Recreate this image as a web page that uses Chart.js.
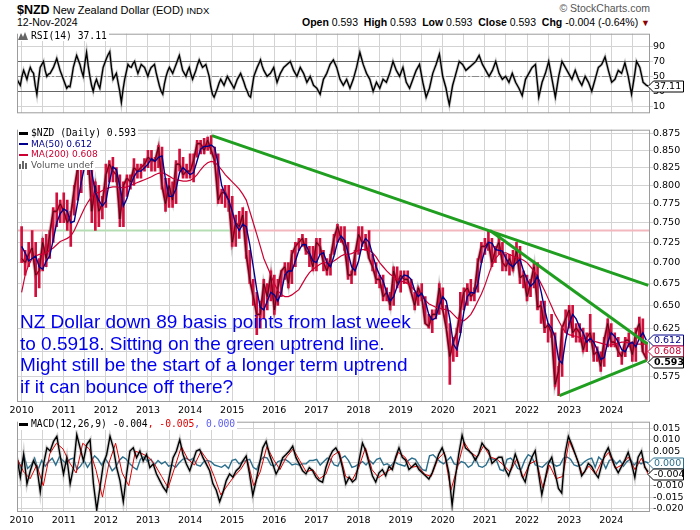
<!DOCTYPE html>
<html>
<head>
<meta charset="utf-8">
<title>$NZD New Zealand Dollar (EOD)</title>
<script src="https://cdn.jsdelivr.net/npm/chart.js@4.4.1/dist/chart.umd.min.js"></script>
<style>
  body { margin: 0; background: #fff; }
  #page { position: relative; width: 700px; height: 530px; overflow: hidden; background: #fff;
          font-family: "Liberation Sans", Arial, sans-serif; color: #000; }
  #page canvas { position: absolute; left: 0; }
  .txt { position: absolute; white-space: nowrap; line-height: 1; }
  .mono { font-family: "DejaVu Sans Mono", monospace; font-size: 9.7px; }
  .sans { font-family: "DejaVu Sans", sans-serif; font-size: 9px; }
  .key { position: absolute; left: 18px; height: 10.5px; line-height: 10.5px; background: #fff; white-space: nowrap; padding-right: 2px; }
  .dash { display: inline-block; width: 9px; height: 3px; vertical-align: middle; margin: 0 3px 0 1px; }
  #note { position: absolute; left: 20px; top: 311px; color: #0000ee; font-size: 19px; line-height: 21.7px; white-space: nowrap; }
</style>
</head>
<body>
<div id="page">
  <canvas id="rsiChart" width="700" height="91" style="top:28px"></canvas>
  <canvas id="priceChart" width="700" height="292" style="top:124px"></canvas>
  <canvas id="macdChart" width="700" height="110" style="top:416px"></canvas>

  <!-- header -->
  <div class="txt" style="left:17px;top:4px;font-size:11px"><b style="font-size:12.5px">$NZD</b> New Zealand Dollar (EOD) <span style="font-size:9.5px">INDX</span></div>
  <div class="txt" style="left:17px;top:17px;font-size:10.5px">12-Nov-2024</div>
  <div class="txt" style="right:50px;top:3px;font-size:10.5px;color:#555">&copy; StockCharts.com</div>
  <div class="txt" style="right:50px;top:17px;font-size:10.5px"><b>Open</b> 0.593&nbsp; <b>High</b> 0.593&nbsp; <b>Low</b> 0.593&nbsp; <b>Close</b> 0.593&nbsp; <b>Chg</b> -0.004 (-0.64%) <span style="color:#8b0000;font-size:9px">&#9660;</span></div>

  <!-- legends -->
  <div class="key mono" style="top:30.5px"><svg width="11" height="9" style="vertical-align:-1px;margin-right:2px"><path d="M0 9 L3 2 L5 6 L7 1 L10 9 Z" fill="#666"/></svg><span id="rsiKey"></span></div>
  <div class="key mono" style="top:128px"><span class="dash" style="background:#000"></span><span id="closeKey"></span></div>
  <div class="key sans" style="top:138.5px;color:#00008b"><span class="dash" style="background:#00008b;height:2px"></span><span id="ma50Key"></span></div>
  <div class="key sans" style="top:149px;color:#cc0033"><span class="dash" style="background:#cc0033;height:2px"></span><span id="ma200Key"></span></div>
  <div class="key sans" style="top:159.5px;color:#555"><svg width="10" height="8" style="vertical-align:-1px;margin:0 2px 0 1px"><rect x="0" y="3" width="2" height="5" fill="#666"/><rect x="3" y="0" width="2" height="8" fill="#666"/><rect x="6" y="2" width="2" height="6" fill="#666"/></svg>Volume undef</div>
  <div class="key mono" style="top:419px"><span class="dash" style="background:#000"></span><span id="macdKey"></span></div>

  <div id="note">NZ Dollar down 89 basis points from last week<br>to 0.5918. Sitting on the green uptrend line.<br>Might still be the start of a longer term uptrend<br>if it can bounce off there?</div>
</div>

<script>
/* ================= DATA ================= */

const years = [2010, 2011, 2012, 2013, 2014, 2015, 2016, 2017, 2018, 2019, 2020, 2021, 2022, 2023, 2024];
const priceTicks = [0.575, 0.600, 0.625, 0.650, 0.675, 0.700, 0.725, 0.750, 0.775, 0.800, 0.825, 0.850, 0.875];
const rsiTicks = [10, 30, 50, 70, 90];
const rsiLevels = [30, 50, 70];
const macdTicks = [-0.020, -0.015, -0.010, -0.005, 0.000, 0.005, 0.010, 0.015];

// monthly, Jan 2010 .. Nov 2024
const priceHigh = [
  0.745, 0.715, 0.725, 0.740, 0.725, 0.705, 0.730, 0.735, 0.740, 0.770, 0.790, 0.780,
  0.790, 0.780, 0.765, 0.800, 0.825, 0.830, 0.880, 0.880, 0.840, 0.805, 0.800, 0.785,
  0.830, 0.835, 0.840, 0.825, 0.815, 0.805, 0.815, 0.815, 0.838, 0.830, 0.830, 0.838,
  0.850, 0.850, 0.840, 0.857, 0.855, 0.810, 0.810, 0.805, 0.835, 0.852, 0.840, 0.830,
  0.845, 0.845, 0.865, 0.865, 0.868, 0.870, 0.872, 0.855, 0.845, 0.795, 0.800, 0.800,
  0.785, 0.760, 0.765, 0.770, 0.765, 0.715, 0.680, 0.665, 0.655, 0.680, 0.675, 0.690,
  0.685, 0.680, 0.690, 0.700, 0.700, 0.715, 0.725, 0.730, 0.735, 0.730, 0.720, 0.720,
  0.730, 0.730, 0.715, 0.705, 0.710, 0.735, 0.748, 0.745, 0.745, 0.725, 0.690, 0.715,
  0.745, 0.745, 0.735, 0.740, 0.710, 0.700, 0.685, 0.685, 0.670, 0.665, 0.695, 0.695,
  0.690, 0.690, 0.690, 0.680, 0.665, 0.670, 0.675, 0.660, 0.640, 0.645, 0.645, 0.675,
  0.670, 0.650, 0.630, 0.615, 0.625, 0.665, 0.670, 0.675, 0.680, 0.670, 0.705, 0.725,
  0.730, 0.740, 0.730, 0.720, 0.735, 0.725, 0.710, 0.710, 0.715, 0.725, 0.720, 0.690,
  0.685, 0.680, 0.700, 0.700, 0.655, 0.655, 0.630, 0.640, 0.620, 0.585, 0.625, 0.645,
  0.650, 0.650, 0.630, 0.630, 0.625, 0.620, 0.640, 0.620, 0.605, 0.600, 0.615, 0.635,
  0.630, 0.620, 0.615, 0.600, 0.615, 0.620, 0.610, 0.625, 0.637, 0.635, 0.610
];
const priceLow = [
  0.700, 0.685, 0.695, 0.705, 0.660, 0.670, 0.690, 0.695, 0.705, 0.725, 0.745, 0.750,
  0.750, 0.740, 0.720, 0.760, 0.780, 0.790, 0.830, 0.815, 0.750, 0.740, 0.745, 0.755,
  0.770, 0.805, 0.805, 0.805, 0.745, 0.745, 0.785, 0.795, 0.800, 0.810, 0.810, 0.820,
  0.825, 0.820, 0.820, 0.825, 0.795, 0.765, 0.770, 0.770, 0.775, 0.820, 0.810, 0.810,
  0.810, 0.805, 0.840, 0.845, 0.845, 0.850, 0.845, 0.830, 0.775, 0.775, 0.770, 0.765,
  0.720, 0.720, 0.730, 0.745, 0.705, 0.675, 0.650, 0.618, 0.625, 0.635, 0.645, 0.655,
  0.640, 0.650, 0.660, 0.680, 0.670, 0.675, 0.695, 0.715, 0.720, 0.710, 0.695, 0.690,
  0.690, 0.710, 0.690, 0.685, 0.685, 0.710, 0.725, 0.725, 0.715, 0.680, 0.675, 0.685,
  0.710, 0.720, 0.715, 0.705, 0.690, 0.675, 0.670, 0.655, 0.655, 0.645, 0.650, 0.670,
  0.665, 0.675, 0.675, 0.665, 0.645, 0.650, 0.655, 0.630, 0.625, 0.620, 0.635, 0.640,
  0.645, 0.625, 0.567, 0.590, 0.595, 0.620, 0.645, 0.650, 0.655, 0.655, 0.665, 0.700,
  0.710, 0.715, 0.695, 0.700, 0.710, 0.690, 0.690, 0.685, 0.690, 0.700, 0.675, 0.670,
  0.655, 0.660, 0.670, 0.645, 0.630, 0.620, 0.610, 0.615, 0.565, 0.556, 0.575, 0.620,
  0.625, 0.615, 0.610, 0.610, 0.600, 0.600, 0.610, 0.590, 0.590, 0.580, 0.585, 0.605,
  0.605, 0.605, 0.595, 0.587, 0.595, 0.605, 0.590, 0.590, 0.615, 0.600, 0.591
];
const priceClose = [
  0.705, 0.700, 0.710, 0.718, 0.685, 0.690, 0.725, 0.705, 0.735, 0.765, 0.765, 0.775,
  0.765, 0.750, 0.760, 0.795, 0.825, 0.830, 0.870, 0.840, 0.765, 0.800, 0.765, 0.775,
  0.815, 0.830, 0.820, 0.815, 0.755, 0.800, 0.810, 0.805, 0.825, 0.820, 0.825, 0.830,
  0.840, 0.835, 0.835, 0.855, 0.800, 0.775, 0.800, 0.780, 0.830, 0.830, 0.815, 0.820,
  0.820, 0.835, 0.860, 0.860, 0.850, 0.865, 0.850, 0.835, 0.780, 0.790, 0.790, 0.780,
  0.725, 0.750, 0.745, 0.760, 0.710, 0.680, 0.660, 0.640, 0.640, 0.675, 0.660, 0.685,
  0.645, 0.670, 0.690, 0.695, 0.675, 0.710, 0.720, 0.725, 0.730, 0.715, 0.710, 0.695,
  0.725, 0.720, 0.700, 0.690, 0.705, 0.730, 0.745, 0.730, 0.720, 0.685, 0.685, 0.710,
  0.735, 0.725, 0.725, 0.705, 0.695, 0.680, 0.680, 0.660, 0.665, 0.650, 0.690, 0.675,
  0.685, 0.680, 0.680, 0.665, 0.650, 0.670, 0.660, 0.630, 0.627, 0.640, 0.640, 0.670,
  0.645, 0.625, 0.595, 0.610, 0.620, 0.645, 0.665, 0.670, 0.660, 0.665, 0.700, 0.720,
  0.720, 0.725, 0.700, 0.715, 0.725, 0.700, 0.695, 0.705, 0.692, 0.715, 0.682, 0.685,
  0.660, 0.675, 0.695, 0.648, 0.650, 0.625, 0.628, 0.620, 0.567, 0.580, 0.625, 0.635,
  0.645, 0.620, 0.625, 0.620, 0.602, 0.615, 0.620, 0.597, 0.600, 0.585, 0.612, 0.630,
  0.610, 0.610, 0.600, 0.595, 0.612, 0.612, 0.597, 0.620, 0.630, 0.600, 0.593
];
const ma50 = [
  0.720, 0.712, 0.702, 0.705, 0.708, 0.695, 0.692, 0.702, 0.708, 0.728, 0.750, 0.762,
  0.768, 0.765, 0.750, 0.752, 0.778, 0.805, 0.828, 0.845, 0.818, 0.790, 0.780, 0.772,
  0.778, 0.805, 0.826, 0.822, 0.798, 0.772, 0.782, 0.800, 0.812, 0.820, 0.820, 0.825,
  0.830, 0.838, 0.834, 0.840, 0.842, 0.808, 0.785, 0.785, 0.795, 0.818, 0.825, 0.820,
  0.815, 0.818, 0.835, 0.852, 0.856, 0.856, 0.858, 0.854, 0.830, 0.800, 0.788, 0.780,
  0.765, 0.748, 0.740, 0.748, 0.745, 0.722, 0.695, 0.668, 0.648, 0.645, 0.655, 0.665,
  0.662, 0.655, 0.665, 0.685, 0.690, 0.690, 0.702, 0.715, 0.722, 0.722, 0.712, 0.702,
  0.700, 0.710, 0.712, 0.700, 0.695, 0.708, 0.725, 0.733, 0.728, 0.712, 0.695, 0.690,
  0.702, 0.722, 0.730, 0.725, 0.710, 0.695, 0.685, 0.678, 0.665, 0.655, 0.660, 0.672,
  0.680, 0.685, 0.684, 0.680, 0.667, 0.660, 0.664, 0.655, 0.640, 0.634, 0.636, 0.650,
  0.660, 0.655, 0.635, 0.608, 0.602, 0.618, 0.643, 0.660, 0.665, 0.664, 0.675, 0.700,
  0.715, 0.725, 0.724, 0.716, 0.715, 0.714, 0.705, 0.698, 0.695, 0.700, 0.704, 0.690,
  0.680, 0.672, 0.676, 0.684, 0.666, 0.646, 0.630, 0.625, 0.615, 0.592, 0.588, 0.612,
  0.630, 0.640, 0.635, 0.626, 0.620, 0.610, 0.614, 0.610, 0.602, 0.592, 0.594, 0.610,
  0.620, 0.616, 0.610, 0.602, 0.600, 0.608, 0.610, 0.605, 0.614, 0.620, 0.612
];
const ma200 = [
  0.665, 0.685, 0.697, 0.705, 0.708, 0.710, 0.710, 0.712, 0.715, 0.718, 0.722, 0.726,
  0.728, 0.730, 0.733, 0.740, 0.750, 0.760, 0.770, 0.778, 0.785, 0.790, 0.790, 0.793,
  0.795, 0.797, 0.798, 0.798, 0.797, 0.797, 0.798, 0.800, 0.802, 0.804, 0.806, 0.808,
  0.810, 0.812, 0.815, 0.817, 0.818, 0.816, 0.813, 0.810, 0.808, 0.807, 0.806, 0.806,
  0.807, 0.810, 0.815, 0.822, 0.828, 0.832, 0.834, 0.833, 0.828, 0.822, 0.815, 0.810,
  0.805, 0.800, 0.795, 0.788, 0.780, 0.765, 0.750, 0.735, 0.720, 0.705, 0.695, 0.685,
  0.675, 0.667, 0.662, 0.660, 0.660, 0.662, 0.665, 0.668, 0.675, 0.682, 0.688, 0.692,
  0.695, 0.698, 0.700, 0.700, 0.700, 0.702, 0.705, 0.708, 0.710, 0.710, 0.711, 0.713,
  0.715, 0.716, 0.716, 0.715, 0.712, 0.707, 0.700, 0.695, 0.690, 0.686, 0.683, 0.680,
  0.678, 0.677, 0.675, 0.672, 0.667, 0.663, 0.660, 0.656, 0.652, 0.650, 0.648, 0.647,
  0.646, 0.645, 0.644, 0.640, 0.636, 0.634, 0.633, 0.636, 0.640, 0.647, 0.655, 0.663,
  0.673, 0.685, 0.697, 0.705, 0.710, 0.712, 0.712, 0.710, 0.708, 0.706, 0.705, 0.703,
  0.700, 0.695, 0.690, 0.683, 0.675, 0.667, 0.658, 0.649, 0.640, 0.633, 0.626, 0.620,
  0.618, 0.617, 0.616, 0.615, 0.614, 0.613, 0.612, 0.611, 0.610, 0.609, 0.608, 0.607,
  0.607, 0.608, 0.609, 0.610, 0.610, 0.609, 0.609, 0.608, 0.608, 0.608, 0.608
];

// trend lines: [date, price] end points
const trendLong = [[2014.52, 0.872], [2024.88, 0.673]];
const trendShort = [[2021.12, 0.740], [2024.86, 0.608]];
const trendUp = [[2022.77, 0.556], [2024.84, 0.591]];
const levelPrice = 0.740;
const levelBreaks = [2009.89, 2010.6, 2015.02, 2024.92];

// RSI(14), roughly every half month
const rsiValues = [
  46, 42, 38, 50, 58, 52, 46, 55, 62, 57, 54, 38, 26, 45, 62, 66, 70, 58, 50, 53,
  54, 58, 62, 68, 74, 66, 58, 52, 46, 40, 34, 37, 36, 48, 62, 70, 78, 72, 66, 57,
  50, 68, 82, 64, 50, 38, 30, 40, 46, 39, 34, 48, 62, 68, 74, 79, 83, 62, 46, 50,
  54, 42, 30, 15, 32, 46, 56, 66, 63, 62, 67, 70, 61, 54, 60, 66, 64, 62, 56, 50,
  57, 62, 64, 66, 55, 46, 37, 30, 26, 40, 50, 57, 62, 58, 54, 60, 66, 72, 78, 68,
  58, 54, 50, 57, 62, 53, 46, 52, 58, 66, 72, 67, 62, 64, 66, 58, 50, 36, 26, 22,
  28, 34, 41, 46, 42, 38, 44, 50, 46, 42, 38, 34, 40, 46, 50, 54, 48, 42, 35, 30,
  24, 22, 36, 50, 56, 62, 67, 72, 64, 58, 54, 50, 52, 54, 58, 62, 51, 42, 48, 54,
  58, 62, 64, 66, 68, 70, 64, 58, 54, 50, 56, 62, 58, 54, 48, 42, 46, 50, 44, 38,
  36, 34, 30, 26, 36, 46, 50, 54, 60, 66, 69, 72, 67, 62, 54, 46, 42, 38, 42, 46,
  40, 34, 40, 46, 54, 62, 72, 82, 74, 66, 60, 54, 50, 46, 38, 30, 36, 42, 38, 34,
  40, 46, 44, 42, 48, 54, 62, 70, 64, 58, 54, 50, 56, 62, 52, 42, 38, 34, 40, 46,
  52, 58, 62, 66, 54, 42, 32, 22, 28, 34, 44, 54, 60, 66, 73, 80, 65, 50, 42, 34,
  22, 12, 25, 38, 46, 54, 62, 70, 68, 66, 62, 58, 60, 62, 64, 66, 68, 70, 74, 78,
  72, 66, 62, 58, 54, 50, 54, 58, 64, 70, 62, 54, 50, 46, 48, 50, 46, 42, 48, 54,
  48, 42, 38, 34, 29, 24, 35, 46, 50, 54, 58, 62, 64, 66, 44, 22, 32, 42, 48, 54,
  62, 70, 58, 46, 34, 22, 36, 50, 60, 70, 66, 62, 58, 54, 50, 46, 52, 58, 52, 46,
  42, 38, 44, 50, 46, 42, 36, 30, 38, 46, 54, 62, 64, 66, 71, 76, 67, 58, 50, 42,
  44, 46, 52, 58, 56, 54, 61, 68, 59, 50, 38, 26, 40, 54, 70, 66, 62, 52, 42, 40,
  38, 37.11
];

// MACD(12,26,9)
const macdValues = [
  0.0022, -0.0063, 0.0036, -0.0092, -0.0035, 0.0008, -0.0021, -0.0127, -0.0006, 0.0065,
  0.0051, 0.0093, 0.0115, 0.0030, -0.0049, 0.0022, -0.0092, -0.0020, 0.0122, 0.0065,
  0.0008, 0.0079, 0.0100, -0.0090, -0.0206, -0.0106, -0.0006, 0.0036, 0.0115, 0.0065,
  -0.0021, -0.0078, -0.0170, -0.0049, 0.0051, 0.0065, 0.0022, 0.0051, 0.0008, 0.0036,
  -0.0021, -0.0006, -0.0049, -0.0078, -0.0106, -0.0127, -0.0049, 0.0022, 0.0051, 0.0100,
  0.0036, -0.0006, -0.0035, 0.0008, 0.0051, 0.0058, 0.0022, -0.0006, -0.0035, -0.0092,
  -0.0120, -0.0170, -0.0130, -0.0078, -0.0049, -0.0063, -0.0035, -0.0021, 0.0008, 0.0029,
  -0.0049, -0.0142, -0.0078, -0.0006, 0.0065, 0.0093, 0.0036, -0.0006, -0.0049, -0.0021,
  0.0022, 0.0036, 0.0051, 0.0072, 0.0022, -0.0006, -0.0035, -0.0049, -0.0021, -0.0035,
  -0.0063, -0.0078, -0.0085, -0.0021, 0.0022, 0.0051, 0.0065, 0.0036, -0.0021, -0.0092,
  -0.0063,
  -0.0084, -0.0071, 0.0011, 0.0086, 0.0052, -0.0003, -0.0057, -0.0084, -0.0044, -0.0030,
  -0.0057, -0.0016, -0.0030, 0.0024, 0.0065, 0.0024, 0.0011, -0.0030, -0.0016, -0.0003,
  -0.0030, -0.0044, -0.0057, -0.0071, -0.0044, -0.0003, 0.0038, 0.0065, 0.0024, -0.0044,
  -0.0186, -0.0060, 0.0038, 0.0120, 0.0065, 0.0052, 0.0038, 0.0011, 0.0038, 0.0086,
  0.0065, 0.0052, -0.0003, 0.0011, 0.0024, 0.0024, -0.0030, -0.0057, -0.0016, 0.0038,
  -0.0003, -0.0057, -0.0084, -0.0016, 0.0024, 0.0052, -0.0044, -0.0139, -0.0071, -0.0003,
  0.0024, -0.0044, -0.0112, -0.0132, 0.0040, 0.0115, 0.0080, 0.0040, 0.0000, -0.0057,
  -0.0037, -0.0003, -0.0016, -0.0044, -0.0065, -0.0010, 0.0038, 0.0065, 0.0024, -0.0016,
  -0.0044, -0.0016, 0.0011, 0.0045, -0.0003, -0.0064, 0.0024, 0.0050, -0.0020, -0.0040
];
const signalValues = [
  0.0020, -0.0040, -0.0070, -0.0010, -0.0100, 0.0040, 0.0085, 0.0060, 0.0000, -0.0045,
  0.0085, 0.0060, -0.0030, -0.0150, 0.0000, 0.0085, -0.0045, -0.0100, 0.0050, 0.0040,
  0.0025, -0.0010, -0.0060, -0.0110, -0.0020, 0.0070, 0.0015, -0.0010, 0.0050, 0.0010,
  -0.0060, -0.0140, -0.0100, -0.0060, -0.0030, 0.0015, -0.0100, -0.0040, 0.0070, 0.0015,
  -0.0030, 0.0025, 0.0060, 0.0010, -0.0040, -0.0030, -0.0070, -0.0050, 0.0030, 0.0050,
  -0.0060, -0.0075, -0.0020, 0.0065, -0.0030, -0.0065, -0.0045, -0.0025, 0.0045, 0.0025,
  -0.0020, -0.0015, -0.0050, -0.0060, 0.0015, 0.0045, -0.0120, -0.0020, 0.0090, 0.0045,
  0.0025, 0.0075, 0.0025, 0.0015, -0.0010, -0.0040, 0.0015, -0.0065, -0.0005, 0.0010,
  -0.0110, -0.0010, -0.0070, -0.0060, 0.0095, 0.0030, -0.0050, -0.0015, -0.0050, 0.0010,
  0.0045, -0.0025, -0.0010, 0.0025, -0.0030, 0.0020, -0.0050
];
const histValues = [
  0.0015, -0.0020, 0.0030, -0.0025, -0.0010, 0.0020, -0.0030, 0.0010, -0.0015, 0.0005,
  0.0020, -0.0010, 0.0025, 0.0010, -0.0005, 0.0015, 0.0020, -0.0030, -0.0015, 0.0010,
  -0.0020, 0.0005, 0.0030, 0.0015, -0.0010, 0.0020, -0.0005, -0.0035, -0.0020, 0.0010,
  0.0025, 0.0015, -0.0005, -0.0020, -0.0030, 0.0015, 0.0025, 0.0005, 0.0015, -0.0010,
  0.0010, -0.0005, 0.0005, -0.0015, -0.0010, -0.0020, 0.0000, 0.0015, 0.0020, 0.0010,
  0.0020, -0.0010, -0.0015, 0.0005, 0.0010, 0.0005, -0.0010, -0.0015, -0.0020, -0.0010,
  -0.0025, 0.0010, 0.0015, -0.0005, 0.0005, 0.0010, 0.0015, -0.0020, -0.0030, 0.0010,
  0.0025, 0.0020, -0.0010, -0.0015, 0.0005, 0.0010, 0.0015, 0.0005, -0.0010, -0.0005,
  -0.0010, -0.0005, -0.0005, 0.0010, 0.0010, 0.0015, -0.0010, 0.0005, 0.0020, 0.0015,
  -0.0010, -0.0015, 0.0020, 0.0030, 0.0010, -0.0020, -0.0015, -0.0005, 0.0005, -0.0010,
  0.0010, -0.0005, 0.0015, 0.0020, -0.0010, -0.0005, -0.0015, 0.0005, -0.0005, -0.0010,
  -0.0015, 0.0010, 0.0020, 0.0015, -0.0010, -0.0030, -0.0035, 0.0030, 0.0035, 0.0020,
  0.0005, -0.0005, 0.0010, 0.0025, -0.0005, -0.0010, 0.0005, 0.0000, -0.0020, -0.0010,
  0.0020, -0.0015, -0.0020, -0.0010, 0.0020, 0.0015, 0.0010, -0.0030, -0.0035, 0.0015,
  0.0020, 0.0005, -0.0025, -0.0030, 0.0010, 0.0035, 0.0025, -0.0010, -0.0015, -0.0020,
  -0.0005, 0.0010, -0.0005, -0.0015, -0.0010, 0.0020, 0.0025, 0.0015, -0.0010, -0.0015,
  -0.0010, 0.0005, 0.0015, 0.0020, -0.0020, 0.0025, 0.0010, -0.0025, 0.0010, 0.0015,
  -0.0005, 0.0010, -0.0015, 0.0005, 0.0015, -0.0010, 0.0005, -0.0005, 0.0005, 0.0000
];

/* ================= STYLE ================= */

const T_MIN = 2009.89, T_MAX = 2024.92;      // x axis range (years)
const OSC_START = 2009.89, OSC_END = 2024.875; // oscillator samples span
const RED = '#cc0033', NAVY = '#00008b', GREEN = '#1f9e1f', TEAL = '#2b6e8c';
const GRID = '#d3d3d3', FRAME = '#9c9c9c';

Chart.defaults.font.family = '"DejaVu Sans", sans-serif';
Chart.defaults.font.size = 9.5;
Chart.defaults.color = '#000';
Chart.defaults.animation = false;
Chart.defaults.plugins.legend.display = false;
Chart.defaults.plugins.tooltip.enabled = false;

const monthDates = priceClose.map((v, i) => 2010 + i / 12);
const xTickValues = [];
years.forEach(y => { xTickValues.push(y, y + 0.5); });

function pts(dates, vals) {
    return vals.map((v, i) => ({ x: dates[i], y: v }));
}
function spread(vals) {
    const step = (OSC_END - OSC_START) / (vals.length - 1);
    return vals.map((v, i) => ({ x: OSC_START + i * step, y: v }));
}
function last(a) { return a[a.length - 1]; }

/* panel frame */
const frame = {
    id: 'frame',
    afterDatasetsDraw(chart) {
        const a = chart.chartArea, ctx = chart.ctx;
        ctx.save();
        ctx.strokeStyle = FRAME;
        ctx.lineWidth = 1;
        ctx.strokeRect(a.left + 0.5, a.top + 0.5, a.right - a.left - 1, a.bottom - a.top - 1);
        ctx.restore();
    }
};

/* RSI 30 / 50 / 70 lines */
const refLines = {
    id: 'refLines',
    beforeDatasetsDraw(chart, args, opts) {
        if (!opts.levels) return;
        const a = chart.chartArea, ctx = chart.ctx, s = chart.scales.y;
        ctx.save();
        opts.levels.forEach(v => {
            const y = Math.round(s.getPixelForValue(v)) + 0.5;
            ctx.beginPath();
            ctx.setLineDash(v === 50 ? [7, 2, 2, 2] : []);
            ctx.strokeStyle = v === 50 ? '#8a8a8a' : '#666';
            ctx.lineWidth = 1;
            ctx.moveTo(a.left, y);
            ctx.lineTo(a.right, y);
            ctx.stroke();
        });
        ctx.restore();
    }
};

/* last-value tags on the right axis */
const valueTags = {
    id: 'valueTags',
    afterDraw(chart, args, opts) {
        if (!opts.items) return;
        const ctx = chart.ctx, s = chart.scales.y, r = chart.chartArea.right;
        const placed = [];
        opts.items.forEach(item => {
            let y = s.getPixelForValue(item.value);
            placed.forEach(p => { if (Math.abs(y - p) < 11) y = p + 11; });
            placed.push(y);
            y = Math.round(y) + 0.5;
            ctx.save();
            ctx.beginPath();
            ctx.moveTo(r - 2, y);
            ctx.lineTo(r + 3.5, y - 5.5);
            ctx.lineTo(r + 33.5, y - 5.5);
            ctx.lineTo(r + 33.5, y + 5.5);
            ctx.lineTo(r + 3.5, y + 5.5);
            ctx.closePath();
            ctx.fillStyle = '#fff';
            ctx.fill();
            ctx.strokeStyle = item.color;
            ctx.lineWidth = 1;
            ctx.stroke();
            ctx.fillStyle = item.color;
            ctx.font = (item.bold ? 'bold ' : '') + '9.5px "DejaVu Sans", sans-serif';
            ctx.textBaseline = 'middle';
            ctx.fillText(item.text, r + 4, y + 0.5);
            ctx.restore();
        });
    }
};

function xScale(showLabels, height) {
    return {
        type: 'linear',
        min: T_MIN,
        max: T_MAX,
        offset: false,
        grid: { color: GRID, drawTicks: false, offset: false },
        border: { display: false },
        ticks: {
            display: showLabels,
            autoSkip: false,
            maxRotation: 0,
            padding: 3,
            callback: v => Number.isInteger(v) ? String(v) : ''
        },
        afterBuildTicks: s => { s.ticks = xTickValues.map(v => ({ value: v })); },
        afterFit: s => { s.height = height; }
    };
}

function yScale(type, min, max, tickValues, fmt) {
    return {
        type: type,
        position: 'right',
        min: min,
        max: max,
        grid: { color: GRID, tickLength: 3, drawTicks: true },
        border: { display: false },
        ticks: { padding: 0, autoSkip: false, callback: fmt },
        afterBuildTicks: s => { s.ticks = tickValues.map(v => ({ value: v })); },
        afterFit: s => { s.width = 50; }
    };
}

/* ================= RSI ================= */

new Chart(document.getElementById('rsiChart'), {
    type: 'line',
    data: {
        datasets: [
            { data: spread(rsiValues), borderColor: '#000', borderWidth: 1.4, pointRadius: 0 },
            { data: spread(rsiValues), borderColor: 'rgba(150,150,150,0.5)', borderWidth: 3, pointRadius: 0 }
        ]
    },
    options: {
        responsive: false,
        devicePixelRatio: 1,
        layout: { padding: { left: 17, right: 0, top: 1, bottom: 1 } },
        scales: {
            x: xScale(false, 0),
            y: yScale('linear', 0.4, 107.2, rsiTicks, v => String(v))
        },
        plugins: {
            refLines: { levels: rsiLevels },
            valueTags: { items: [{ value: last(rsiValues), text: last(rsiValues).toFixed(2), color: '#000' }] }
        }
    },
    plugins: [refLines, frame, valueTags]
});

/* ================= PRICE ================= */

const levelColors = ['#f2b8bd', '#b5deb5', '#f2b8bd'];
const levelSets = levelColors.map((c, i) => ({
    type: 'line',
    data: [{ x: levelBreaks[i], y: levelPrice }, { x: levelBreaks[i + 1], y: levelPrice }],
    borderColor: c,
    borderWidth: 2,
    pointRadius: 0,
    order: 10
}));

function trendSet(line) {
    return {
        type: 'line',
        data: line.map(p => ({ x: p[0], y: p[1] })),
        borderColor: GREEN,
        borderWidth: 3,
        pointRadius: 0,
        order: 1
    };
}

new Chart(document.getElementById('priceChart'), {
    type: 'bar',
    data: {
        datasets: levelSets.concat([
            {
                type: 'bar',
                data: monthDates.map((t, i) => ({ x: t, y: [priceLow[i], priceHigh[i]] })),
                backgroundColor: '#d0103c',
                borderWidth: 0,
                barThickness: 2,
                order: 8
            },
            { type: 'line', data: pts(monthDates, priceClose), borderColor: 'rgba(180,180,180,0.6)', borderWidth: 4, pointRadius: 0, order: 9 },
            { type: 'line', data: pts(monthDates, priceClose), borderColor: '#d0103c', borderWidth: 2.2, pointRadius: 0, order: 7.5 },
            { type: 'line', data: pts(monthDates, priceClose), borderColor: 'rgba(0,0,0,0.75)', borderWidth: 0.8, pointRadius: 0, order: 7 },
            { type: 'line', data: pts(monthDates, ma200), borderColor: RED, borderWidth: 1.2, pointRadius: 0, order: 6 },
            { type: 'line', data: pts(monthDates, ma50), borderColor: NAVY, borderWidth: 1.4, pointRadius: 0, order: 5 },
            trendSet(trendLong),
            trendSet(trendShort),
            trendSet(trendUp)
        ])
    },
    options: {
        responsive: false,
        devicePixelRatio: 1,
        layout: { padding: { left: 17, right: 0, top: 1, bottom: 0 } },
        scales: {
            x: xScale(true, 14),
            y: yScale('logarithmic', 0.550, 0.881, priceTicks, v => Number(v).toFixed(3))
        },
        plugins: {
            valueTags: {
                items: [
                    { value: last(ma50), text: last(ma50).toFixed(3), color: NAVY },
                    { value: last(ma200), text: last(ma200).toFixed(3), color: RED },
                    { value: last(priceClose), text: last(priceClose).toFixed(3), color: '#000', bold: true }
                ]
            }
        }
    },
    plugins: [frame, valueTags]
});

/* ================= MACD ================= */

new Chart(document.getElementById('macdChart'), {
    type: 'line',
    data: {
        datasets: [
            { data: spread(macdValues), borderColor: '#000', borderWidth: 1.4, pointRadius: 0, order: 1 },
            { data: spread(signalValues), borderColor: '#e00000', borderWidth: 1, pointRadius: 0, order: 2 },
            { data: spread(macdValues), borderColor: 'rgba(150,150,150,0.4)', borderWidth: 3.5, pointRadius: 0, order: 3 },
            { data: spread(histValues), borderColor: TEAL, borderWidth: 1.4, pointRadius: 0, order: 4 }
        ]
    },
    options: {
        responsive: false,
        devicePixelRatio: 1,
        layout: { padding: { left: 17, right: 0, top: 1, bottom: 0 } },
        scales: {
            x: xScale(true, 14),
            y: yScale('linear', -0.0215, 0.0179, macdTicks, v => Number(v).toFixed(3))
        },
        plugins: {
            valueTags: {
                items: [
                    { value: last(histValues), text: last(histValues).toFixed(3), color: TEAL },
                    { value: last(macdValues), text: last(macdValues).toFixed(3), color: '#000' }
                ]
            }
        }
    },
    plugins: [frame, valueTags]
});

/* ================= LEGEND TEXT ================= */

document.getElementById('rsiKey').textContent = 'RSI(14) ' + last(rsiValues).toFixed(2);
document.getElementById('closeKey').textContent = '$NZD (Daily) ' + last(priceClose).toFixed(3);
document.getElementById('ma50Key').textContent = 'MA(50) ' + last(ma50).toFixed(3);
document.getElementById('ma200Key').textContent = 'MA(200) ' + last(ma200).toFixed(3);
document.getElementById('macdKey').innerHTML = 'MACD(12,26,9) ' + last(macdValues).toFixed(3) +
    '<span style="color:#e00000">, ' + last(signalValues).toFixed(3) + '</span>' +
    '<span style="color:#5b5bef">, ' + last(histValues).toFixed(3) + '</span>';
</script>
</body>
</html>
